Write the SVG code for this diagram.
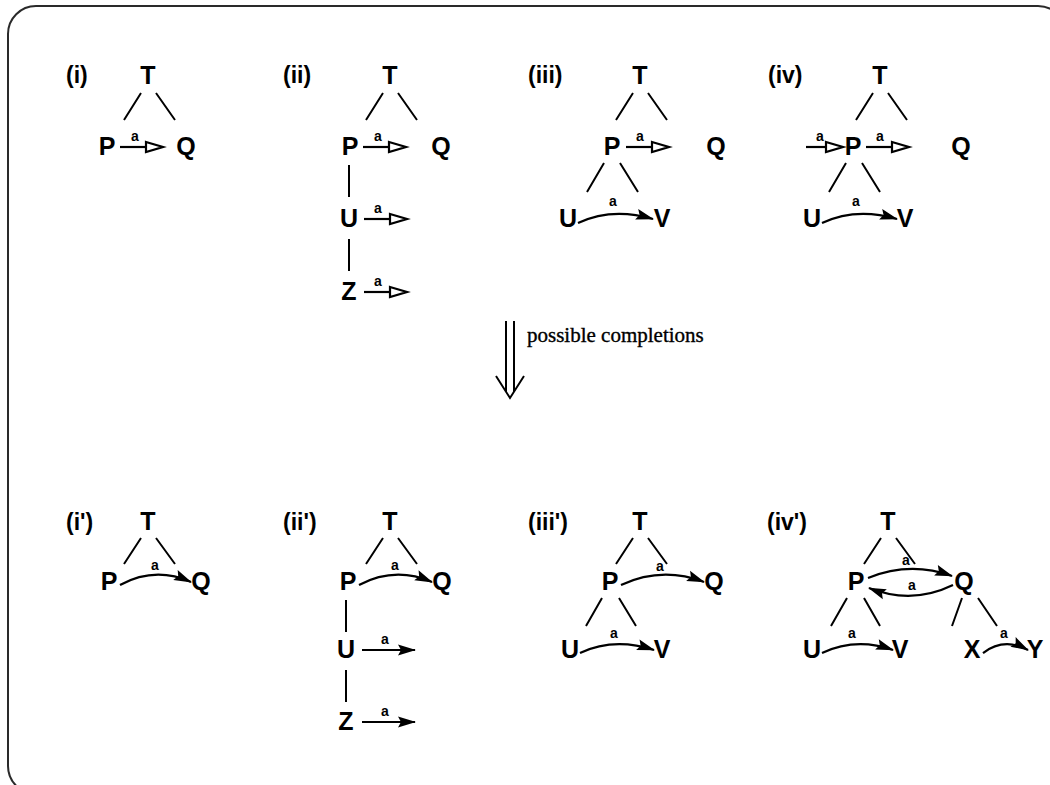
<svg xmlns="http://www.w3.org/2000/svg" width="1050" height="785" viewBox="0 0 1050 785">
  <defs>
    <!-- hollow triangular head, base sits on the line end -->
    <marker id="openHead" markerUnits="userSpaceOnUse" markerWidth="22" markerHeight="14" refX="2" refY="7" orient="auto" overflow="visible">
      <path d="M2,2 L19,7 L2,12 Z" fill="#fff" stroke="#000" stroke-width="2.2" stroke-linejoin="miter"/>
    </marker>
    <!-- solid head, tip at line end -->
    <marker id="solidHead" markerUnits="userSpaceOnUse" markerWidth="22" markerHeight="12" refX="17" refY="5.5" orient="auto" overflow="visible">
      <path d="M0,0 L18,5.5 L0,11 L3,5.5 Z" fill="#000"/>
    </marker>
  </defs>
  <style>
    .frame { fill: none; stroke: #2a2a2a; stroke-width: 2; }
    .node { font-family: "Liberation Sans", Arial, sans-serif; font-weight: bold; font-size: 25px; fill: #000; text-anchor: middle; }
    .tag { font-family: "Liberation Sans", Arial, sans-serif; font-weight: bold; font-size: 23px; fill: #000; }
    .lbl { font-family: "Liberation Sans", Arial, sans-serif; font-weight: bold; font-size: 14px; fill: #000; text-anchor: middle; }
    .note { font-family: "Liberation Serif", "Times New Roman", serif; font-size: 21px; fill: #000; stroke: #000; stroke-width: 0.35; }
    .edge { stroke: #000; stroke-width: 2; fill: none; }
    .open { stroke: #000; stroke-width: 2.2; fill: none; marker-end: url(#openHead); }
    .solid { stroke: #000; stroke-width: 2.2; fill: none; marker-end: url(#solidHead); }
  </style>

  <rect class="frame" x="8" y="6" width="1058" height="788" rx="28" ry="28"/>

  <!-- ===== before ===== -->
  <g id="case-i">
    <text class="tag" x="66" y="83">(i)</text>
    <text class="node" x="148" y="84">T</text>
    <text class="node" x="107" y="155">P</text>
    <text class="node" x="186" y="155">Q</text>
    <text class="lbl" x="135" y="141">a</text>
  </g>
  <g id="case-ii">
    <text class="tag" x="283" y="83">(ii)</text>
    <text class="node" x="390" y="84">T</text>
    <text class="node" x="350" y="155">P</text>
    <text class="node" x="441" y="155">Q</text>
    <text class="node" x="349" y="227">U</text>
    <text class="node" x="349" y="300">Z</text>
    <text class="lbl" x="378" y="141">a</text>
    <text class="lbl" x="378" y="213">a</text>
    <text class="lbl" x="378" y="286">a</text>
  </g>
  <g id="case-iii">
    <text class="tag" x="528" y="83">(iii)</text>
    <text class="node" x="640" y="84">T</text>
    <text class="node" x="612" y="155">P</text>
    <text class="node" x="716" y="155">Q</text>
    <text class="node" x="568" y="227">U</text>
    <text class="node" x="662" y="227">V</text>
    <text class="lbl" x="640" y="141">a</text>
    <text class="lbl" x="613" y="206">a</text>
  </g>
  <g id="case-iv">
    <text class="tag" x="768" y="83">(iv)</text>
    <text class="node" x="880" y="84">T</text>
    <text class="node" x="853" y="155">P</text>
    <text class="node" x="961" y="155">Q</text>
    <text class="node" x="812" y="227">U</text>
    <text class="node" x="905" y="227">V</text>
    <text class="lbl" x="820" y="141">a</text>
    <text class="lbl" x="880" y="141">a</text>
    <text class="lbl" x="856" y="206">a</text>
  </g>

  <!-- transition -->
  <g id="transition">
    <path class="edge" d="M506,321 V392 M514,321 V392 M496,376 L510,398 L524,376"/>
    <text class="note" x="527" y="342">possible completions</text>
  </g>

  <!-- ===== after ===== -->
  <g id="case-i2">
    <text class="tag" x="66" y="530">(i')</text>
    <text class="node" x="148" y="530">T</text>
    <text class="node" x="109" y="590">P</text>
    <text class="node" x="201" y="590">Q</text>
    <text class="lbl" x="155" y="570">a</text>
  </g>
  <g id="case-ii2">
    <text class="tag" x="283" y="530">(ii')</text>
    <text class="node" x="390" y="530">T</text>
    <text class="node" x="348" y="590">P</text>
    <text class="node" x="442" y="590">Q</text>
    <text class="node" x="346" y="658">U</text>
    <text class="node" x="346" y="730">Z</text>
    <text class="lbl" x="395" y="570">a</text>
    <text class="lbl" x="385" y="644">a</text>
    <text class="lbl" x="385" y="716">a</text>
  </g>
  <g id="case-iii2">
    <text class="tag" x="528" y="530">(iii')</text>
    <text class="node" x="640" y="530">T</text>
    <text class="node" x="610" y="590">P</text>
    <text class="node" x="714" y="590">Q</text>
    <text class="node" x="570" y="658">U</text>
    <text class="node" x="662" y="658">V</text>
    <text class="lbl" x="660" y="571">a</text>
    <text class="lbl" x="614" y="638">a</text>
  </g>
  <g id="case-iv2">
    <text class="tag" x="767" y="530">(iv')</text>
    <text class="node" x="888" y="530">T</text>
    <text class="node" x="856" y="590">P</text>
    <text class="node" x="964" y="590">Q</text>
    <text class="node" x="812" y="658">U</text>
    <text class="node" x="900" y="658">V</text>
    <text class="node" x="972" y="658">X</text>
    <text class="node" x="1035" y="658">Y</text>
    <text class="lbl" x="906" y="565">a</text>
    <text class="lbl" x="912" y="590">a</text>
    <text class="lbl" x="852" y="638">a</text>
    <text class="lbl" x="1004" y="638">a</text>
  </g>

  <!-- connectors -->
  <g id="connectors">
    <!-- (i) -->
    <path class="edge" d="M141,93 L124,120 M156,93 L175,120"/>
    <path class="open" d="M120,147 H146"/>
    <!-- (ii) -->
    <path class="edge" d="M383,93 L366,120 M398,93 L417,120"/>
    <path class="open" d="M363,147 H389"/>
    <path class="edge" d="M349,165 V197 M349,239 V271"/>
    <path class="open" d="M364,219 H390"/>
    <path class="open" d="M364,292 H390"/>
    <!-- (iii) -->
    <path class="edge" d="M633,93 L616,120 M648,93 L667,120"/>
    <path class="open" d="M626,147 H652"/>
    <path class="edge" d="M604,163 L587,192 M620,163 L638,192"/>
    <path class="solid" d="M578,223 Q612,207 653,219"/>
    <!-- (iv) -->
    <path class="edge" d="M873,93 L856,120 M888,93 L907,120"/>
    <path class="open" d="M806,147 H826"/>
    <path class="open" d="M866,147 H892"/>
    <path class="edge" d="M846,163 L829,192 M862,163 L880,192"/>
    <path class="solid" d="M822,223 Q856,207 897,219"/>
    <!-- (i') -->
    <path class="edge" d="M141,538 L124,564 M156,538 L175,564"/>
    <path class="solid" d="M120,585 Q155,566 191,582"/>
    <!-- (ii') -->
    <path class="edge" d="M383,538 L366,564 M398,538 L417,564"/>
    <path class="solid" d="M359,585 Q395,566 432,582"/>
    <path class="edge" d="M346,600 V632 M346,670 V702"/>
    <path class="solid" d="M362,650 H415"/>
    <path class="solid" d="M362,722 H415"/>
    <!-- (iii') -->
    <path class="edge" d="M633,538 L616,564 M648,538 L667,564"/>
    <path class="solid" d="M621,585 Q662,566 704,582"/>
    <path class="edge" d="M602,598 L586,626 M619,598 L636,626"/>
    <path class="solid" d="M580,653 Q614,637 654,650"/>
    <!-- (iv') -->
    <path class="edge" d="M881,538 L864,564 M896,538 L915,564"/>
    <path class="solid" d="M868,578 Q910,561 952,576"/>
    <path class="solid" d="M953,585 Q912,605 869,588"/>
    <path class="edge" d="M847,598 L831,626 M864,598 L880,626"/>
    <path class="solid" d="M822,653 Q856,637 893,650"/>
    <path class="edge" d="M962,598 L952,626 M978,598 L997,626"/>
    <path class="solid" d="M983,653 Q1004,637 1028,650"/>
  </g>
</svg>
